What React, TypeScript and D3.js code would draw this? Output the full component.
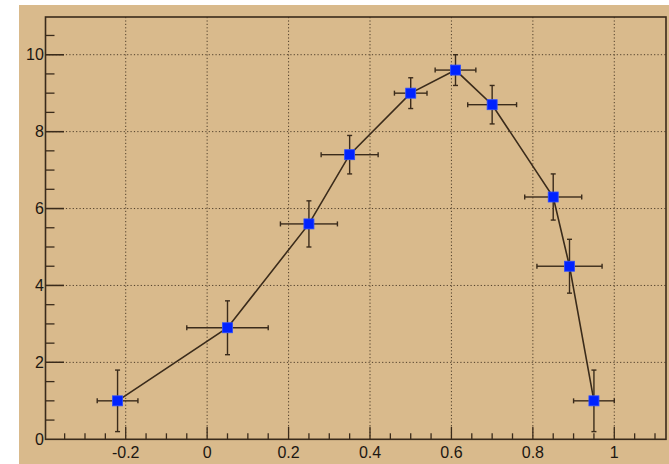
import React from "react";
import * as d3 from "d3";

const xs = [-0.22, 0.05, 0.25, 0.35, 0.5, 0.61, 0.7, 0.85, 0.89, 0.95];
const ys = [1, 2.9, 5.6, 7.4, 9, 9.6, 8.7, 6.3, 4.5, 1];
const exs = [0.05, 0.1, 0.07, 0.07, 0.04, 0.05, 0.06, 0.07, 0.08, 0.05];
const eys = [0.8, 0.7, 0.6, 0.5, 0.4, 0.4, 0.5, 0.6, 0.7, 0.8];
const xTickLabels = [-0.2, 0, 0.2, 0.4, 0.6, 0.8, 1];
const yTickLabels = [0, 2, 4, 6, 8, 10];

const W = 669;
const H = 464;
const BG = "#d9ba8c";
const INK = "#3a2b1b";

export default function App() {
  const left = 45.5, right = 666, top = 17, bottom = 439.3;
  const x = d3.scaleLinear().domain([-0.397, 1.127]).range([left, right]);
  const y = d3.scaleLinear().domain([0, 10.98]).range([bottom, top]);

  const xMinor = d3.range(-0.35, 1.126, 0.05).map((v) => Math.round(v * 100) / 100);
  const yMinor = d3.range(0.5, 10.98, 0.5).map((v) => Math.round(v * 10) / 10);

  const data = xs.map((xv, i) => ({ x: xv, y: ys[i], ex: exs[i], ey: eys[i] }));
  const line = d3.line<{ x: number; y: number }>().x((d) => x(d.x)).y((d) => y(d.y));
  const ms = 5;
  const cap = 2.5;
  const font = "'Liberation Sans', Arial, Helvetica, sans-serif";

  return (
    <svg width={W} height={H} style={{ position: "absolute", left: 0, top: 0 }}>
      <rect x={0} y={0} width={W} height={H} fill="#ffffff" />
      <rect x={19} y={5} width={W - 19} height={H - 5} fill={BG} />
      {/* grid */}
      <g stroke={INK} strokeWidth={1} strokeDasharray="1.2,2.2" opacity={0.85}>
        {xTickLabels.map((v) => (
          <line key={"gx" + v} x1={x(v)} x2={x(v)} y1={top} y2={bottom} />
        ))}
        {yTickLabels.filter((v) => v > 0).map((v) => (
          <line key={"gy" + v} x1={left} x2={right} y1={y(v)} y2={y(v)} />
        ))}
      </g>
      {/* x ticks */}
      <g stroke={INK} strokeWidth={1.3}>
        {xMinor.map((v) => {
          const major = xTickLabels.some((t) => Math.abs(t - v) < 1e-6);
          return (
            <line key={"xt" + v} x1={x(v)} x2={x(v)} y1={bottom} y2={bottom - (major ? 12.5 : 6)} />
          );
        })}
        {yMinor.concat(yTickLabels.filter((v) => v > 0)).map((v) => {
          const major = yTickLabels.some((t) => Math.abs(t - v) < 1e-6);
          return (
            <line key={"yt" + v} x1={left} x2={left + (major ? 18.5 : 9)} y1={y(v)} y2={y(v)} />
          );
        })}
      </g>
      {/* frame */}
      <rect x={left} y={top} width={right - left} height={bottom - top} fill="none" stroke={INK} strokeWidth={1.6} />
      {/* labels */}
      <g fill="#1c1712" fontFamily={font} fontSize={16}>
        {xTickLabels.map((v) => (
          <text key={"xl" + v} x={x(v)} y={458.3} textAnchor="middle">
            {d3.format("")(v).replace("−", "-")}
          </text>
        ))}
        {yTickLabels.map((v) => (
          <text key={"yl" + v} x={43.8} y={y(v)} dy="0.36em" textAnchor="end">
            {v}
          </text>
        ))}
      </g>
      {/* connecting line */}
      <path d={line(data) || ""} fill="none" stroke={INK} strokeWidth={1.6} />
      {/* error bars */}
      <g stroke={INK} strokeWidth={1.4}>
        {data.map((d, i) => {
          const cx = x(d.x), cy = y(d.y);
          const x0 = x(d.x - d.ex), x1 = x(d.x + d.ex);
          const y0 = y(d.y - d.ey), y1 = y(d.y + d.ey);
          return (
            <g key={"e" + i}>
              <line x1={x0} x2={cx - ms} y1={cy} y2={cy} />
              <line x1={cx + ms} x2={x1} y1={cy} y2={cy} />
              <line x1={cx} x2={cx} y1={y1} y2={cy - ms} />
              <line x1={cx} x2={cx} y1={cy + ms} y2={y0} />
              <line x1={x0} x2={x0} y1={cy - cap} y2={cy + cap} />
              <line x1={x1} x2={x1} y1={cy - cap} y2={cy + cap} />
              <line x1={cx - cap} x2={cx + cap} y1={y1} y2={y1} />
              <line x1={cx - cap} x2={cx + cap} y1={y0} y2={y0} />
            </g>
          );
        })}
      </g>
      {/* markers */}
      <g fill="#0022ff" stroke="#2a4cff" strokeWidth={0.8}>
        {data.map((d, i) => (
          <rect key={"m" + i} x={x(d.x) - ms} y={y(d.y) - ms} width={ms * 2} height={ms * 2} />
        ))}
      </g>
    </svg>
  );
}
